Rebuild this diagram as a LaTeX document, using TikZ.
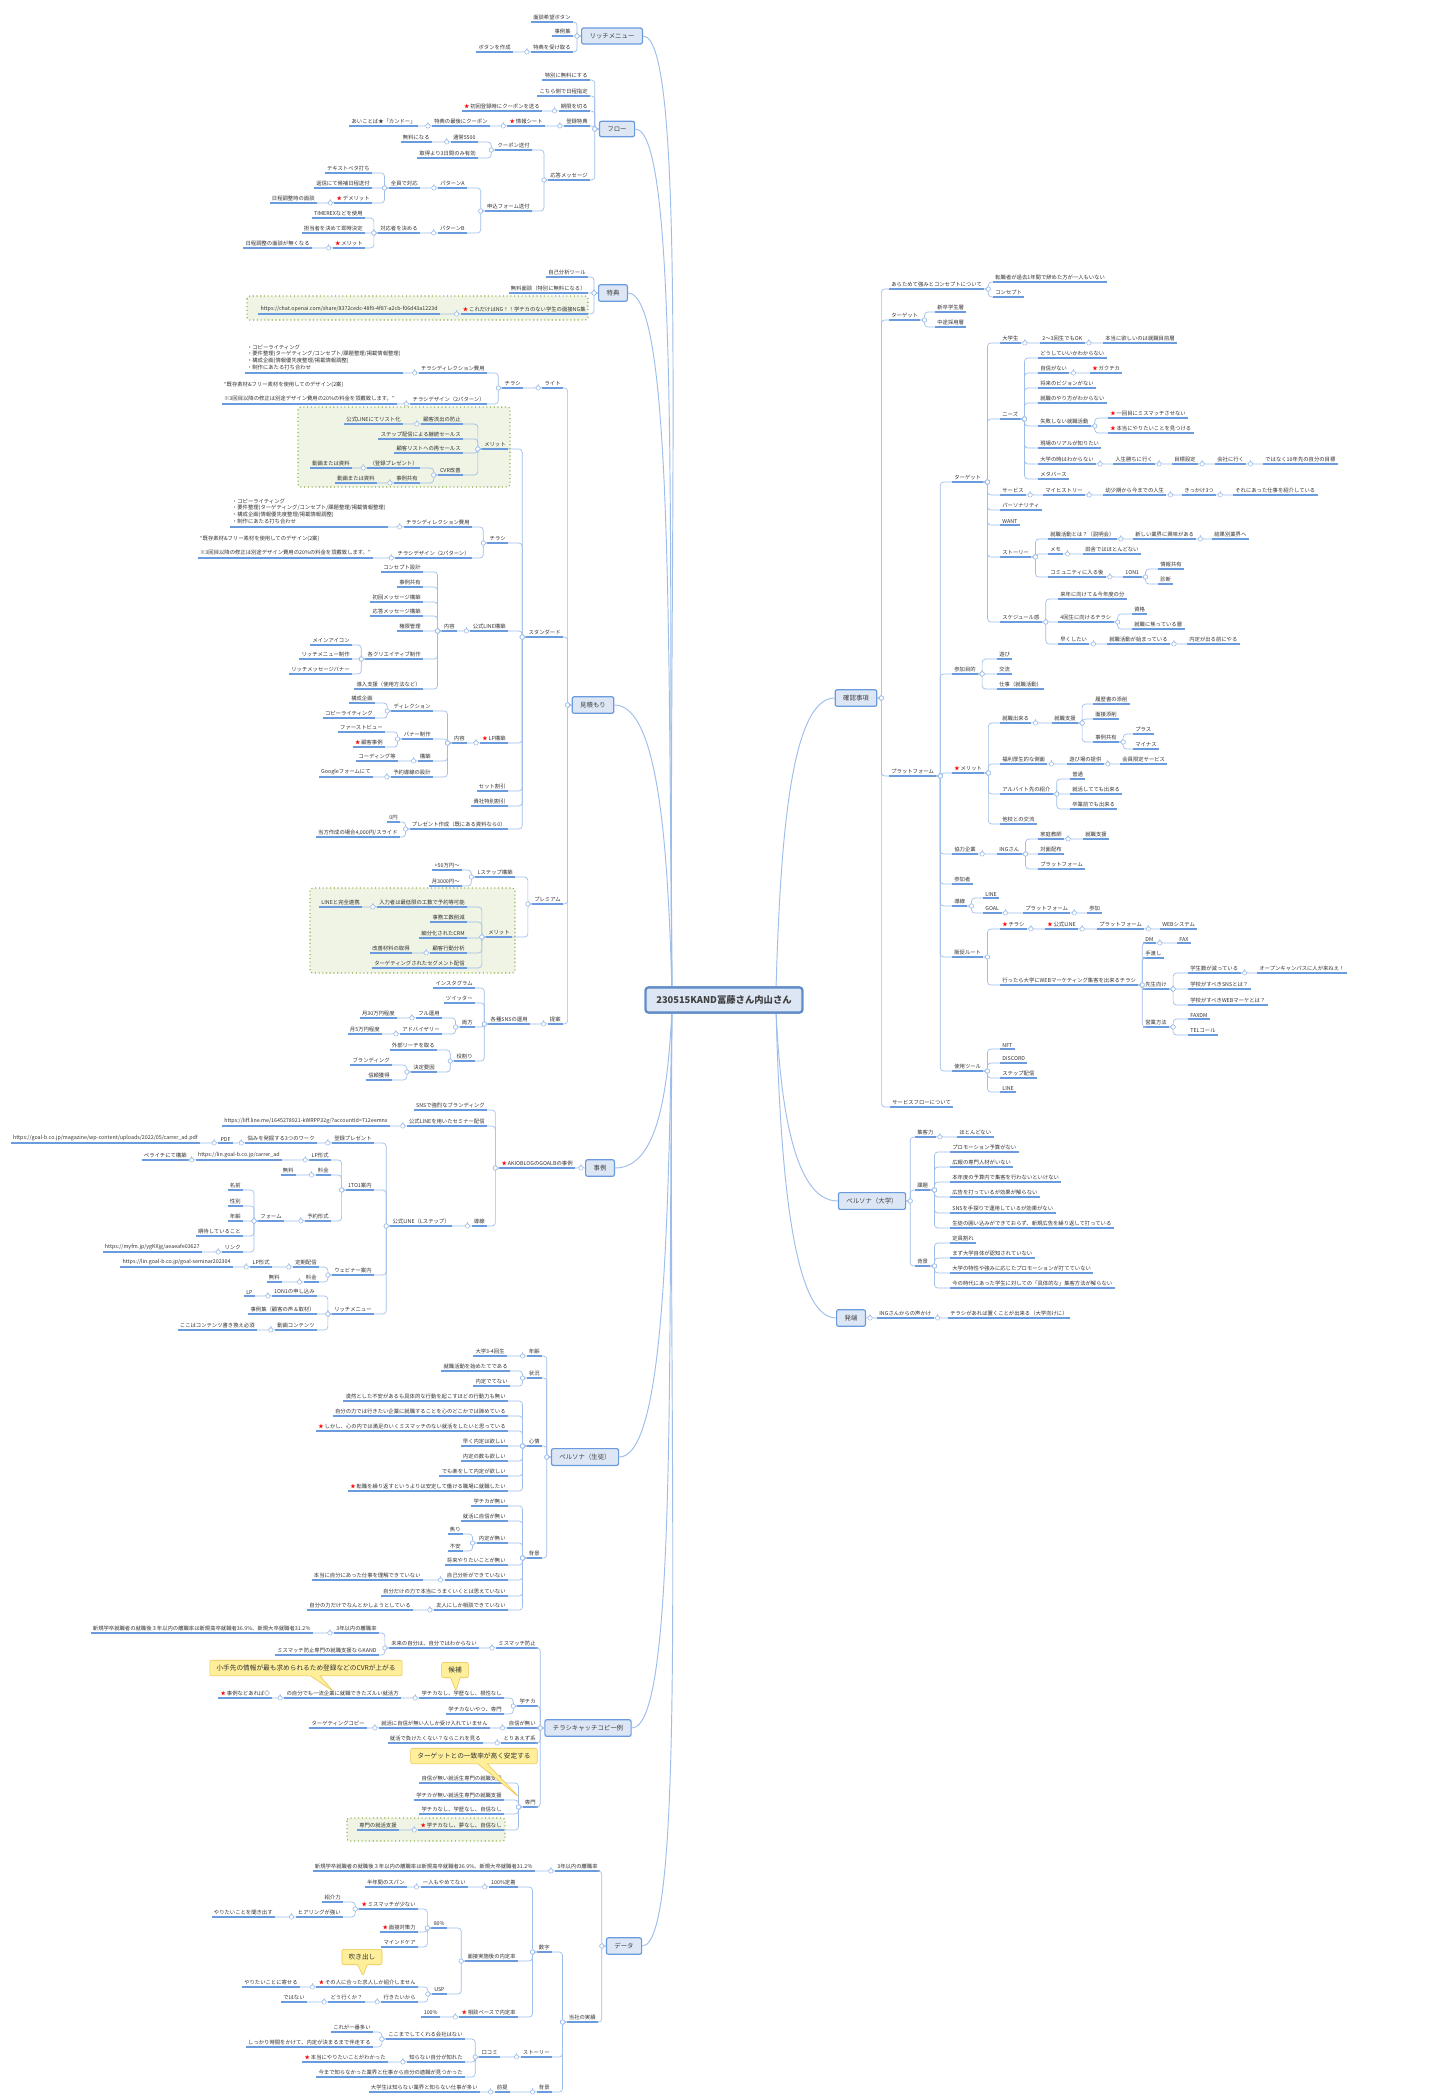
\documentclass[tikz,border=0pt]{standalone}
\usepackage{fontspec}
\setmainfont{Noto Sans CJK JP}
\usetikzlibrary{calc,shapes.callouts}
\definecolor{ulc}{HTML}{6A9BDF}
\definecolor{cnc}{HTML}{9DBDEB}
\definecolor{tfill}{HTML}{DCE6F4}
\definecolor{tdraw}{HTML}{6A9BDF}
\definecolor{gfill}{HTML}{EFF4E4}
\definecolor{gdraw}{HTML}{8DB04A}
\definecolor{yfill}{HTML}{FFEE9A}
\definecolor{ydraw}{HTML}{E9C44E}
\newcommand\stx{\textcolor{red}{★}\,}
\tikzset{
 lbl/.style={font=\fontsize{4}{5}\selectfont, inner xsep=1.6pt, inner ysep=1.3pt, text=black!80,
   append after command={(\tikzlastnode.south west) edge[ul] (\tikzlastnode.south east)}},
 ul/.style={draw=ulc, line width=0.9pt},
 con/.style={draw=cnc, line width=0.5pt, rounded corners=2.5pt},
 cc/.style={draw=cnc, fill=white, line width=0.4pt},
 mc/.style={draw=cnc, line width=0.7pt},
 topic/.style={draw=tdraw, fill=tfill, rounded corners=1.5pt, line width=0.9pt, font=\fontsize{4.8}{5.5}\selectfont, inner xsep=6pt, inner ysep=4pt, text=black!75},
 root/.style={draw=tdraw!90!black, fill=tfill, rounded corners=2pt, line width=1.6pt, font=\fontsize{7}{8}\selectfont\bfseries, inner xsep=8pt, inner ysep=6pt, text=black!75},
 gbox/.style={draw=gdraw, fill=gfill, dotted, line width=0.8pt, rounded corners=2pt},
 yc/.style={rectangle callout, draw=ydraw, fill=yfill, rounded corners=1.5pt, font=\fontsize{5}{6}\selectfont, inner xsep=5pt, inner ysep=3.5pt, text=black!80},
}
\newcommand\LL[5]{\node[lbl,anchor=south east] (#1) at (#2,#3) {#4};
 \draw[con] (#5) -- ++(-4,0) |- (#1.south east);
 \draw[cc] ($(#5)+(-4,0)$) circle[radius=1.6pt];}
\newcommand\RR[5]{\node[lbl,anchor=south west] (#1) at (#2,#3) {#4};
 \draw[con] (#5) -- ++(4,0) |- (#1.south west);
 \draw[cc] ($(#5)+(4,0)$) circle[radius=1.6pt];}
\begin{document}
\begin{tikzpicture}[x=0.75pt,y=-0.75pt]
\fill[white] (0,0) rectangle (1433,2100);
\useasboundingbox (0,0) rectangle (1433,2100);
% green boxes
\draw[gbox] (247,296) rectangle (588,320);
\draw[gbox] (298,407) rectangle (510,487);
\draw[gbox] (310,888) rectangle (515,973);
\draw[gbox] (347,1818) rectangle (505,1841);
% topics
\node[root] (root) at (724,1000) {230515KAND冨藤さん内山さん};
\node[topic] (rich) at (612,36) {リッチメニュー};
\node[topic] (flow) at (617,129) {フロー};
\node[topic] (toku) at (613,293) {特典};
\node[topic] (mits) at (593,705) {見積もり};
\node[topic] (jirei) at (600,1168) {事例};
\node[topic] (pst) at (585,1457) {ペルソナ（生徒）};
\node[topic] (chira) at (588,1728) {チラシキャッチコピー例};
\node[topic] (data) at (624,1946) {データ};
\node[topic] (kaku) at (856,698) {確認事項};
\node[topic] (pdai) at (872,1201) {ペルソナ（大学）};
\node[topic] (hot) at (851,1318) {発端};
% main connectors
\begin{scope}[on background layer/.style={}]
\draw[mc] (rich.east) .. controls +(45,0) and (668,518) .. (672,990);
\draw[mc] (flow.east) .. controls +(45,0) and (668,565) .. (672,990);
\draw[mc] (toku.east) .. controls +(45,0) and (668,646) .. (672,990);
\draw[mc] (mits.east) .. controls +(45,0) and (668,852) .. (672,992);
\draw[mc] (jirei.east) .. controls +(45,0) and (668,1084) .. (672,1010);
\draw[mc] (pst.east) .. controls +(45,0) and (668,1228) .. (672,1010);
\draw[mc] (chira.east) .. controls +(45,0) and (668,1364) .. (672,1010);
\draw[mc] (data.east) .. controls +(45,0) and (668,1473) .. (672,1010);
\draw[mc] (kaku.west) .. controls +(-45,0) and (780,849) .. (776,990);
\draw[mc] (pdai.west) .. controls +(-45,0) and (780,1100) .. (776,1010);
\draw[mc] (hot.west) .. controls +(-45,0) and (780,1159) .. (776,1010);
\end{scope}
\node[root] at (724,1000) {230515KAND冨藤さん内山さん};
% リッチメニュー
\LL{r1}{573}{22}{面談希望ボタン}{rich.west}
\LL{r2}{573}{36}{事例集}{rich.west}
\LL{r3}{573}{52}{特典を受け取る}{rich.west}
\LL{r4}{513}{52}{ボタンを作成}{r3.south west}
% フロー
\LL{f1}{590}{80}{特別に無料にする}{flow.west}
\LL{f2}{590}{96}{こちら側で日程指定}{flow.west}
\LL{f3}{590}{111}{期限を切る}{flow.west}
\LL{f3a}{542}{111}{\stx 初回登録時にクーポンを送る}{f3.south west}
\LL{f4}{590}{126}{登録特典}{flow.west}
\LL{f4a}{545}{126}{\stx 情報シート}{f4.south west}
\LL{f4b}{490}{126}{特典の最後にクーポン}{f4a.south west}
\LL{f4c}{418}{126}{あいことば★「カンドー」}{f4b.south west}
\LL{f5}{590}{180}{応答メッセージ}{flow.west}
\LL{f5a}{532}{150}{クーポン送付}{f5.south west}
\LL{f5b}{478}{142}{通常5500}{f5a.south west}
\LL{f5c}{432}{142}{無料になる}{f5b.south west}
\LL{f5d}{478}{158}{取得より3日間のみ有効}{f5a.south west}
\LL{f6}{532}{211}{申込フォーム送付}{f5.south west}
\LL{f6a}{467}{188}{パターンA}{f6.south west}
\LL{f6b}{420}{188}{全員で対応}{f6a.south west}
\LL{f6c}{372}{173}{テキストベタ打ち}{f6b.south west}
\LL{f6d}{372}{188}{返信にて候補日程送付}{f6b.south west}
\LL{f6e}{372}{203}{\stx デメリット}{f6b.south west}
\LL{f6f}{317}{203}{日程調整時の面談}{f6e.south west}
\LL{f7}{467}{233}{パターンB}{f6.south west}
\LL{f7a}{420}{233}{対応者を決める}{f7.south west}
\LL{f7b}{365}{218}{TIMEREXなどを使用}{f7a.south west}
\LL{f7c}{365}{233}{担当者を決めて即時決定}{f7a.south west}
\LL{f7d}{365}{248}{\stx メリット}{f7a.south west}
\LL{f7e}{312}{248}{日程調整の面談が無くなる}{f7d.south west}
% 特典
\LL{t1}{588}{277}{自己分析ツール}{toku.west}
\LL{t2}{588}{293}{無料面談（特別に無料になる）}{toku.west}
\LL{t3}{588}{314}{\stx これだけはNG！！学チカのない学生の面接NG集}{toku.west}
\LL{t4}{440}{314}{https://chat.openai.com/share/8372cedc-48f9-4f87-a2cb-f06d43a1223d}{t3.south west}
% 見積もり
\LL{m1}{563}{388}{ライト}{mits.west}
\LL{m1a}{523}{388}{チラシ}{m1.south west}
\LL{m1b}{487}{373}{チラシディレクション費用}{m1a.south west}
\LL{m1c}{403}{373}{\begin{tabular}{@{}l@{}}・コピーライティング\\・要件整理(ターゲティング/コンセプト/課題整理/掲載情報整理)\\・構成企画(情報優先度整理/掲載情報調整)\\・制作にあたる打ち合わせ\end{tabular}}{m1b.south west}
\LL{m1d}{487}{404}{チラシデザイン（2パターン）}{m1a.south west}
\LL{m1e}{397}{404}{\begin{tabular}{@{}l@{}}“既存素材\&フリー素材を使用してのデザイン(2案)\\[5pt]※3回目以降の修正は別途デザイン費用の20\%の料金を頂戴致します。”\end{tabular}}{m1d.south west}
\LL{m2}{563}{637}{スタンダード}{mits.west}
\LL{m2a}{508}{449}{メリット}{m2.south west}
\LL{m2a1}{463}{424}{顧客流出の防止}{m2a.south west}
\LL{m2a2}{403}{424}{公式LINEにてリスト化}{m2a1.south west}
\LL{m2a3}{463}{439}{ステップ配信による継続セールス}{m2a.south west}
\LL{m2a4}{463}{453}{顧客リストへの再セールス}{m2a.south west}
\LL{m2a5}{463}{475}{CVR改善}{m2a.south west}
\LL{m2a6}{420}{468}{（登録プレゼント）}{m2a5.south west}
\LL{m2a7}{352}{468}{動画または資料}{m2a6.south west}
\LL{m2a8}{420}{483}{事例共有}{m2a5.south west}
\LL{m2a9}{377}{483}{動画または資料}{m2a8.south west}
\LL{m2b}{508}{543}{チラシ}{m2.south west}
\LL{m2b1}{472}{527}{チラシディレクション費用}{m2b.south west}
\LL{m2b2}{388}{527}{\begin{tabular}{@{}l@{}}・コピーライティング\\・要件整理(ターゲティング/コンセプト/課題整理/掲載情報整理)\\・構成企画(情報優先度整理/掲載情報調整)\\・制作にあたる打ち合わせ\end{tabular}}{m2b1.south west}
\LL{m2b3}{472}{558}{チラシデザイン（2パターン）}{m2b.south west}
\LL{m2b4}{373}{558}{\begin{tabular}{@{}l@{}}“既存素材\&フリー素材を使用してのデザイン(2案)\\[5pt]※3回目以降の修正は別途デザイン費用の20\%の料金を頂戴致します。”\end{tabular}}{m2b3.south west}
\LL{m2c}{508}{631}{公式LINE構築}{m2.south west}
\LL{m2c1}{457}{631}{内容}{m2c.south west}
\LL{c1}{423}{572}{コンセプト設計}{m2c1.south west}
\LL{c2}{423}{587}{事例共有}{m2c1.south west}
\LL{c3}{423}{602}{初回メッセージ構築}{m2c1.south west}
\LL{c4}{423}{616}{応答メッセージ構築}{m2c1.south west}
\LL{c5}{423}{631}{権限管理}{m2c1.south west}
\LL{c6}{423}{659}{各クリエイティブ制作}{m2c1.south west}
\LL{c6a}{352}{645}{メインアイコン}{c6.south west}
\LL{c6b}{352}{659}{リッチメニュー制作}{c6.south west}
\LL{c6c}{352}{674}{リッチメッセージバナー}{c6.south west}
\LL{c7}{423}{689}{導入支援（使用方法など）}{m2c1.south west}
\LL{m2d}{508}{743}{\stx LP構築}{m2.south west}
\LL{m2d1}{467}{743}{内容}{m2d.south west}
\LL{d1}{433}{711}{ディレクション}{m2d1.south west}
\LL{d1a}{375}{703}{構成企画}{d1.south west}
\LL{d1b}{375}{718}{コピーライティング}{d1.south west}
\LL{d2}{433}{739}{バナー制作}{m2d1.south west}
\LL{d2a}{385}{732}{ファーストビュー}{d2.south west}
\LL{d2b}{385}{747}{\stx 顧客事例}{d2.south west}
\LL{d3}{433}{761}{構築}{m2d1.south west}
\LL{d3a}{398}{761}{コーディング等}{d3.south west}
\LL{d4}{433}{777}{予約導線の設計}{m2d1.south west}
\LL{d4a}{373}{777}{Googleフォームにて}{d4.south west}
\LL{m2e}{508}{791}{セット割引}{m2.south west}
\LL{m2f}{508}{806}{貴社特別割引}{m2.south west}
\LL{m2g}{508}{829}{プレゼント作成（既にある資料なら0）}{m2.south west}
\LL{m2g1}{400}{822}{0円}{m2g.south west}
\LL{m2g2}{400}{837}{当方作成の場合4,000円/スライド}{m2g.south west}
\LL{m3}{563}{904}{プレミアム}{mits.west}
\LL{m3a}{515}{877}{Lステップ構築}{m3.south west}
\LL{m3a1}{462}{870}{+50万円〜}{m3a.south west}
\LL{m3a2}{462}{886}{月3000円〜}{m3a.south west}
\LL{m3b}{512}{937}{メリット}{m3.south west}
\LL{p1}{467}{907}{入力者は最低限の工数で予約等可能}{m3b.south west}
\LL{p1a}{362}{907}{LINEと完全連携}{p1.south west}
\LL{p2}{467}{922}{事務工数削減}{m3b.south west}
\LL{p3}{467}{938}{細分化されたCRM}{m3b.south west}
\LL{p4}{467}{953}{顧客行動分析}{m3b.south west}
\LL{p4a}{412}{953}{改善材料の取得}{p4.south west}
\LL{p5}{467}{968}{ターゲティングされたセグメント配信}{m3b.south west}
\LL{m4}{563}{1024}{提案}{mits.west}
\LL{m4a}{530}{1024}{各種SNSの運用}{m4.south west}
\LL{s1}{475}{988}{インスタグラム}{m4a.south west}
\LL{s2}{475}{1003}{ツイッター}{m4a.south west}
\LL{s3}{475}{1027}{両方}{m4a.south west}
\LL{s3a}{442}{1018}{フル運用}{s3.south west}
\LL{s3b}{397}{1018}{月30万円程度}{s3a.south west}
\LL{s3c}{442}{1034}{アドバイザリー}{s3.south west}
\LL{s3d}{382}{1034}{月5万円程度}{s3c.south west}
\LL{s4}{475}{1061}{役割り}{m4a.south west}
\LL{s4a}{437}{1050}{外部リーチを取る}{s4.south west}
\LL{s4b}{437}{1072}{決定要因}{s4.south west}
\LL{s4c}{392}{1065}{ブランディング}{s4b.south west}
\LL{s4d}{392}{1080}{信頼獲得}{s4b.south west}
% 事例
\LL{j0}{575}{1168}{\stx AKIOBLOGのGOALBの事例}{jirei.west}
\LL{j1}{487}{1110}{SNSで強烈なブランディング}{j0.south west}
\LL{j2}{487}{1126}{公式LINEを用いたセミナー配信}{j0.south west}
\LL{j2a}{390}{1126}{https://liff.line.me/1645278921-kWRPP32g/?accountId=712eemnx}{j2.south west}
\LL{j3}{487}{1226}{導線}{j0.south west}
\LL{j3a}{452}{1226}{公式LINE（Lステップ）}{j3.south west}
\LL{k1}{374}{1143}{登録プレゼント}{j3a.south west}
\LL{k1a}{317}{1143}{悩みを発掘する3つのワーク}{k1.south west}
\LL{k1b}{233}{1143}{PDF}{k1a.south west}
\LL{k1c}{200}{1143}{https://goal-b.co.jp/magazine/wp-content/uploads/2022/05/carrer\_ad.pdf}{k1b.south west}
\LL{k2}{374}{1190}{1TO1案内}{j3a.south west}
\LL{k2a}{331}{1160}{LP形式}{k2.south west}
\LL{k2b}{282}{1160}{https://lin.goal-b.co.jp/carrer\_ad}{k2a.south west}
\LL{k2c}{189}{1160}{ペライチにて構築}{k2b.south west}
\LL{k2d}{331}{1175}{料金}{k2.south west}
\LL{k2e}{296}{1175}{無料}{k2d.south west}
\LL{k2f}{331}{1221}{予約形式}{k2.south west}
\LL{k2g}{284}{1221}{フォーム}{k2f.south west}
\LL{g1}{243}{1190}{名前}{k2g.south west}
\LL{g2}{243}{1206}{性別}{k2g.south west}
\LL{g3}{243}{1221}{年齢}{k2g.south west}
\LL{g4}{243}{1236}{期待していること}{k2g.south west}
\LL{g5}{243}{1252}{リンク}{k2g.south west}
\LL{g5a}{202}{1252}{https://myfm.jp/ygKXjg/aeaeafe03627}{g5.south west}
\LL{k3}{374}{1275}{ウェビナー案内}{j3a.south west}
\LL{k3a}{319}{1267}{定期配信}{k3.south west}
\LL{k3b}{272}{1267}{LP形式}{k3a.south west}
\LL{k3c}{233}{1267}{https://lin.goal-b.co.jp/goal-seminar202304}{k3b.south west}
\LL{k3d}{319}{1282}{料金}{k3.south west}
\LL{k3e}{282}{1282}{無料}{k3d.south west}
\LL{k4}{374}{1314}{リッチメニュー}{j3a.south west}
\LL{k4a}{317}{1296}{1ON1の申し込み}{k4.south west}
\LL{k4b}{255}{1296}{LP}{k4a.south west}
\LL{k4c}{317}{1314}{事例集（顧客の声＆取材）}{k4.south west}
\LL{k4d}{317}{1330}{動画コンテンツ}{k4.south west}
\LL{k4e}{257}{1330}{ここはコンテンツ書き換え必須}{k4d.south west}
% ペルソナ（生徒）
\LL{q1}{542}{1356}{年齢}{pst.west}
\LL{q1a}{507}{1356}{大学3-4回生}{q1.south west}
\LL{q2}{542}{1378}{状況}{pst.west}
\LL{q2a}{510}{1371}{就職活動を始めたてである}{q2.south west}
\LL{q2b}{510}{1386}{内定でてない}{q2.south west}
\LL{q3}{542}{1446}{心情}{pst.west}
\LL{h1}{508}{1401}{漠然とした不安があるも具体的な行動を起こすほどの行動力も無い}{q3.south west}
\LL{h2}{508}{1416}{自分の力では行きたい企業に就職することを心のどこかでは諦めている}{q3.south west}
\LL{h3}{508}{1431}{\stx しかし、心の内では満足のいくミスマッチのない就活をしたいと思っている}{q3.south west}
\LL{h4}{508}{1446}{早く内定は欲しい}{q3.south west}
\LL{h5}{508}{1461}{内定の数も欲しい}{q3.south west}
\LL{h6}{508}{1476}{でも楽をして内定が欲しい}{q3.south west}
\LL{h7}{508}{1491}{\stx 転職を繰り返すというよりは安定して働ける職場に就職したい}{q3.south west}
\LL{q4}{542}{1558}{背景}{pst.west}
\LL{b1}{508}{1506}{学チカが無い}{q4.south west}
\LL{b2}{508}{1521}{就活に自信が無い}{q4.south west}
\LL{b3}{508}{1543}{内定が無い}{q4.south west}
\LL{b3a}{463}{1534}{焦り}{b3.south west}
\LL{b3b}{463}{1551}{不安}{b3.south west}
\LL{b4}{508}{1565}{将来やりたいことが無い}{q4.south west}
\LL{b5}{508}{1580}{自己分析ができていない}{q4.south west}
\LL{b5a}{423}{1580}{本当に自分にあった仕事を理解できていない}{b5.south west}
\LL{b6}{508}{1596}{自分だけの力で本当にうまくいくとは思えていない}{q4.south west}
\LL{b7}{508}{1610}{友人にしか相談できていない}{q4.south west}
\LL{b7a}{413}{1610}{自分の力だけでなんとかしようとしている}{b7.south west}
% チラシキャッチコピー例
\LL{w1}{538}{1648}{ミスマッチ防止}{chira.west}
\LL{w1a}{479}{1648}{未来の自分は、自分ではわからない}{w1.south west}
\LL{w1b}{379}{1633}{3年以内の離職率}{w1a.south west}
\LL{w1c}{313}{1633}{新規学卒就職者の就職後３年以内の離職率は新規高卒就職者36.9\%、新規大卒就職者31.2％}{w1b.south west}
\LL{w1d}{379}{1655}{ミスマッチ防止専門の就職支援ならKAND}{w1a.south west}
\LL{w2}{538}{1706}{学チカ}{chira.west}
\LL{w2a}{504}{1698}{学チカなし、学歴なし、根性なし}{w2.south west}
\LL{w2b}{401}{1698}{の自分でも一流企業に就職できたズルい就活方}{w2a.south west}
\LL{w2c}{272}{1698}{\stx 事例などあれば◎}{w2b.south west}
\LL{w2d}{504}{1714}{学チカないやつ、専門}{w2.south west}
\LL{w3}{538}{1728}{自信が無い}{chira.west}
\LL{w3a}{490}{1728}{就活に自信が無い人しか受け入れていません}{w3.south west}
\LL{w3b}{367}{1728}{ターゲティングコピー}{w3a.south west}
\LL{w4}{538}{1743}{とりあえず系}{chira.west}
\LL{w4a}{483}{1743}{就活で負けたくない？ならこれを見る}{w4.south west}
\LL{w5}{538}{1807}{専門}{chira.west}
\LL{w5a}{504}{1783}{自信が無い就活生専門の就職支援}{w5.south west}
\LL{w5b}{504}{1800}{学チカが無い就活生専門の就職支援}{w5.south west}
\LL{w5c}{504}{1814}{学チカなし、学歴なし、自信なし}{w5.south west}
\LL{w5d}{504}{1830}{\stx 学チカなし、夢なし、自信なし}{w5.south west}
\LL{w5e}{399}{1830}{専門の就活支援}{w5d.south west}
% データ
\LL{x1}{600}{1871}{3年以内の離職率}{data.west}
\LL{x1a}{535}{1871}{新規学卒就職者の就職後３年以内の離職率は新規高卒就職者36.9\%、新規大卒就職者31.2％}{x1.south west}
\LL{x2}{598}{2022}{当社の実績}{data.west}
\LL{x3}{552}{1952}{数字}{x2.south west}
\LL{x3a}{518}{1887}{100\%定着}{x3.south west}
\LL{x3b}{468}{1887}{一人もやめてない}{x3a.south west}
\LL{x3c}{407}{1887}{半年間のスパン}{x3b.south west}
\LL{x4}{518}{1961}{面接実施後の内定率}{x3.south west}
\LL{x5}{447}{1928}{80\%}{x4.south west}
\LL{x5a}{418}{1909}{\stx ミスマッチが少ない}{x5.south west}
\LL{x5b}{343}{1902}{紹介力}{x5a.south west}
\LL{x5c}{343}{1917}{ヒアリングが強い}{x5a.south west}
\LL{x5d}{275}{1917}{やりたいことを聞き出す}{x5c.south west}
\LL{x5e}{418}{1932}{\stx 面接対策力}{x5.south west}
\LL{x5f}{418}{1947}{マインドケア}{x5.south west}
\LL{x6}{447}{1994}{USP}{x4.south west}
\LL{x6a}{418}{1987}{\stx その人に合った求人しか紹介しません}{x6.south west}
\LL{x6b}{300}{1987}{やりたいことに寄せる}{x6a.south west}
\LL{x6c}{418}{2002}{行きたいから}{x6.south west}
\LL{x6d}{365}{2002}{どう行くか？}{x6c.south west}
\LL{x6e}{307}{2002}{ではない}{x6d.south west}
\LL{x7}{518}{2017}{\stx 相談ベースで内定率}{x3.south west}
\LL{x7a}{440}{2017}{100\%}{x7.south west}
\LL{x8}{552}{2057}{ストーリー}{x2.south west}
\LL{x8a}{500}{2057}{口コミ}{x8.south west}
\LL{x9}{465}{2039}{ここまでしてくれる会社はない}{x8a.south west}
\LL{x9a}{373}{2032}{これが一番多い}{x9.south west}
\LL{x9b}{373}{2047}{しっかり時間をかけて、内定が決まるまで伴走する}{x9.south west}
\LL{x10}{465}{2062}{知らない自分が知れた}{x8a.south west}
\LL{x10a}{388}{2062}{\stx 本当にやりたいことがわかった}{x10.south west}
\LL{x11}{465}{2077}{今まで知らなかった業界と仕事から自分の適職が見つかった}{x8a.south west}
\LL{x12}{552}{2092}{背景}{x2.south west}
\LL{x12a}{510}{2092}{前提}{x12.south west}
\LL{x12b}{480}{2092}{大学生は知らない業界と知らない仕事が多い}{x12a.south west}
% 確認事項
\RR{y1}{889}{289}{あらためて強みとコンセプトについて}{kaku.east}
\RR{y1a}{993}{282}{転職者が過去1年間で辞めた方が一人もいない}{y1.south east}
\RR{y1b}{993}{297}{コンセプト}{y1.south east}
\RR{y2}{889}{320}{ターゲット}{kaku.east}
\RR{y2a}{935}{312}{新卒学生層}{y2.south east}
\RR{y2b}{935}{327}{中途採用層}{y2.south east}
\RR{y3}{889}{776}{プラットフォーム}{kaku.east}
\RR{y4}{890}{1107}{サービスフローについて}{kaku.east}
\RR{z1}{952}{482}{ターゲット}{y3.south east}
\RR{z1a}{1000}{343}{大学生}{z1.south east}
\RR{z1b}{1040}{343}{2〜3回生でもOK}{z1a.south east}
\RR{z1c}{1103}{343}{本当に欲しいのは就職目前層}{z1b.south east}
\RR{z2}{1000}{419}{ニーズ}{z1.south east}
\RR{n1}{1038}{358}{どうしていいかわからない}{z2.south east}
\RR{n2}{1038}{373}{自信がない}{z2.south east}
\RR{n2a}{1090}{373}{\stx ガクチカ}{n2.south east}
\RR{n3}{1038}{388}{将来のビジョンがない}{z2.south east}
\RR{n4}{1038}{403}{就職のやり方がわからない}{z2.south east}
\RR{n5}{1038}{426}{失敗しない就職活動}{z2.south east}
\RR{n5a}{1108}{418}{\stx 一回目にミスマッチさせない}{n5.south east}
\RR{n5b}{1108}{433}{\stx 本当にやりたいことを見つける}{n5.south east}
\RR{n6}{1038}{448}{現場のリアルが知りたい}{z2.south east}
\RR{n7}{1038}{464}{大学の時はわからない}{z2.south east}
\RR{n7a}{1113}{464}{人生勝ちに行く}{n7.south east}
\RR{n7b}{1172}{464}{目標設定}{n7a.south east}
\RR{n7c}{1215}{464}{会社に行く}{n7b.south east}
\RR{n7d}{1263}{464}{ではなく10年先の自分の目標}{n7c.south east}
\RR{n8}{1038}{479}{メタバース}{z2.south east}
\RR{z3}{1000}{495}{サービス}{z1.south east}
\RR{z3a}{1043}{495}{マイヒストリー}{z3.south east}
\RR{z3b}{1103}{495}{幼少期から今までの人生}{z3a.south east}
\RR{z3c}{1182}{495}{きっかけ3つ}{z3b.south east}
\RR{z3d}{1233}{495}{それにあった仕事を紹介している}{z3c.south east}
\RR{z4}{1000}{510}{パーソナリティ}{z1.south east}
\RR{z5}{1000}{525}{WANT}{z1.south east}
\RR{z6}{1000}{557}{ストーリー}{z1.south east}
\RR{z6a}{1048}{539}{就職活動とは？（説明会）}{z6.south east}
\RR{z6b}{1133}{539}{新しい業界に興味がある}{z6a.south east}
\RR{z6c}{1212}{539}{結果別業界へ}{z6b.south east}
\RR{z6d}{1048}{554}{メモ}{z6.south east}
\RR{z6e}{1083}{554}{田舎ではほとんどない}{z6d.south east}
\RR{z6f}{1048}{577}{コミュニティに入る後}{z6.south east}
\RR{z6g}{1123}{577}{1ON1}{z6f.south east}
\RR{z6h}{1158}{569}{情報共有}{z6g.south east}
\RR{z6i}{1158}{584}{診断}{z6g.south east}
\RR{z7}{1000}{622}{スケジュール感}{z1.south east}
\RR{z7a}{1058}{599}{来年に向けて＆今年度の分}{z7.south east}
\RR{z7b}{1058}{622}{4回生に向けるチラシ}{z7.south east}
\RR{z7c}{1132}{614}{資格}{z7b.south east}
\RR{z7d}{1132}{629}{就職に焦っている層}{z7b.south east}
\RR{z7e}{1058}{644}{早くしたい}{z7.south east}
\RR{z7f}{1107}{644}{就職活動が始まっている}{z7e.south east}
\RR{z7g}{1187}{644}{内定が出る前にやる}{z7f.south east}
\RR{v1}{952}{674}{参加目的}{y3.south east}
\RR{v1a}{997}{659}{遊び}{v1.south east}
\RR{v1b}{997}{674}{交流}{v1.south east}
\RR{v1c}{997}{689}{仕事（就職活動）}{v1.south east}
\RR{v2}{952}{773}{\stx メリット}{y3.south east}
\RR{v2a}{1000}{723}{就職出来る}{v2.south east}
\RR{v2b}{1052}{723}{就職支援}{v2a.south east}
\RR{v2c}{1093}{704}{履歴書の添削}{v2b.south east}
\RR{v2d}{1093}{719}{面接添削}{v2b.south east}
\RR{v2e}{1093}{742}{事例共有}{v2b.south east}
\RR{v2f}{1133}{734}{プラス}{v2e.south east}
\RR{v2g}{1133}{749}{マイナス}{v2e.south east}
\RR{v2h}{1000}{764}{福利厚生的な側面}{v2.south east}
\RR{v2i}{1067}{764}{遊び場の提供}{v2h.south east}
\RR{v2j}{1120}{764}{会員限定サービス}{v2i.south east}
\RR{v2k}{1000}{794}{アルバイト先の紹介}{v2.south east}
\RR{v2l}{1070}{779}{普通}{v2k.south east}
\RR{v2m}{1070}{794}{就活してても出来る}{v2k.south east}
\RR{v2n}{1070}{809}{卒業前でも出来る}{v2k.south east}
\RR{v2o}{1000}{824}{他校との交流}{v2.south east}
\RR{v3}{952}{854}{協力企業}{y3.south east}
\RR{v3a}{997}{854}{INGさん}{v3.south east}
\RR{v3b}{1038}{839}{家庭教師}{v3a.south east}
\RR{v3c}{1083}{839}{就職支援}{v3b.south east}
\RR{v3d}{1038}{854}{対面配布}{v3a.south east}
\RR{v3e}{1038}{869}{プラットフォーム}{v3a.south east}
\RR{v4}{952}{884}{参加者}{y3.south east}
\RR{v5}{952}{906}{導線}{y3.south east}
\RR{v5a}{983}{898}{LINE}{v5.south east}
\RR{v5b}{983}{913}{GOAL}{v5.south east}
\RR{v5c}{1023}{913}{プラットフォーム}{v5b.south east}
\RR{v5d}{1087}{913}{参加}{v5c.south east}
\RR{v6}{952}{957}{販促ルート}{y3.south east}
\RR{v6a}{1000}{929}{\stx チラシ}{v6.south east}
\RR{v6b}{1045}{929}{\stx 公式LINE}{v6a.south east}
\RR{v6c}{1097}{929}{プラットフォーム}{v6b.south east}
\RR{v6d}{1160}{929}{WEBシステム}{v6c.south east}
\RR{v6e}{1000}{985}{行ったら大学にWEBマーケティング集客を出来るチラシ}{v6.south east}
\RR{v6f}{1143}{943}{DM}{v6e.south east}
\RR{v6g}{1177}{943}{FAX}{v6f.south east}
\RR{v6h}{1143}{958}{手渡し}{v6e.south east}
\RR{v6i}{1143}{989}{先生向け}{v6e.south east}
\RR{v6j}{1188}{973}{学生数が減っている}{v6i.south east}
\RR{v6k}{1257}{973}{オープンキャンパスに人が来ねえ！}{v6j.south east}
\RR{v6l}{1188}{989}{学校がすべきSNSとは？}{v6i.south east}
\RR{v6m}{1188}{1005}{学校がすべきWEBマーケとは？}{v6i.south east}
\RR{v6n}{1143}{1027}{営業方法}{v6e.south east}
\RR{v6o}{1188}{1019}{FAXDM}{v6n.south east}
\RR{v6p}{1188}{1035}{TELコール}{v6n.south east}
\RR{v7}{952}{1071}{使用ツール}{y3.south east}
\RR{v7a}{1000}{1049}{NFT}{v7.south east}
\RR{v7b}{1000}{1063}{DISCORD}{v7.south east}
\RR{v7c}{1000}{1078}{ステップ配信}{v7.south east}
\RR{v7d}{1000}{1092}{LINE}{v7.south east}
% ペルソナ（大学）
\RR{u1}{915}{1137}{集客力}{pdai.east}
\RR{u1a}{957}{1137}{ほとんどない}{u1.south east}
\RR{u2}{915}{1190}{課題}{pdai.east}
\RR{u2a}{950}{1152}{プロモーション予算がない}{u2.south east}
\RR{u2b}{950}{1167}{広報の専門人材がいない}{u2.south east}
\RR{u2c}{950}{1182}{本年度の予算内で集客を行わないといけない}{u2.south east}
\RR{u2d}{950}{1197}{広告を打っているが効果が解らない}{u2.south east}
\RR{u2e}{950}{1213}{SNSを手探りで運用しているが効果がない}{u2.south east}
\RR{u2f}{950}{1228}{生徒の囲い込みができておらず、新規広告を繰り返して打っている}{u2.south east}
\RR{u3}{915}{1266}{背景}{pdai.east}
\RR{u3a}{950}{1243}{定員割れ}{u3.south east}
\RR{u3b}{950}{1258}{まず大学自体が認知されていない}{u3.south east}
\RR{u3c}{950}{1273}{大学の特性や強みに応じたプロモーションが打てていない}{u3.south east}
\RR{u3d}{950}{1288}{今の時代にあった学生に対しての「具体的な」集客方法が解らない}{u3.south east}
% 発端
\RR{o1}{877}{1318}{INGさんからの声かけ}{hot.east}
\RR{o2}{948}{1318}{チラシがあれば置くことが出来る（大学向けに）}{o1.south east}
% callouts
\node[yc, callout absolute pointer={(333,1691)}] (cl1) at (306,1668) {小手先の情報が最も求められるため登録などのCVRが上がる};
\node[yc, callout absolute pointer={(456,1691)}] (cl2) at (455,1670) {候補};
\node[yc, callout absolute pointer={(519,1797)}] (cl3) at (474,1756) {ターゲットとの一致率が高く安定する};
\node[yc, callout absolute pointer={(363,1976)}] (cl4) at (362,1957) {吹き出し};
\end{tikzpicture}
\end{document}
